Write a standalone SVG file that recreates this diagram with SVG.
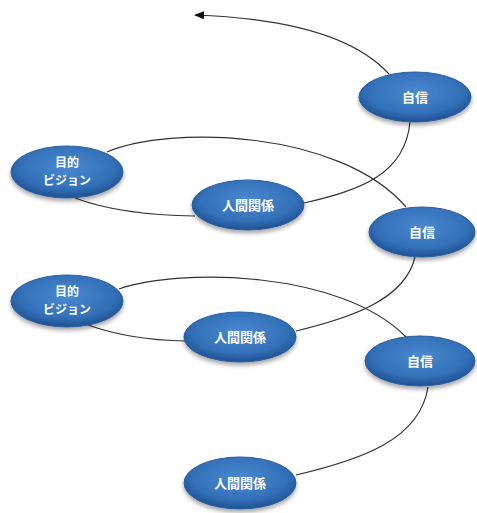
<svg xmlns="http://www.w3.org/2000/svg" width="477" height="513" viewBox="0 0 477 513">
<defs>
<radialGradient id="g" cx="50%" cy="40%" r="60%">
<stop offset="0" stop-color="#4a89d0"/>
<stop offset="0.7" stop-color="#3370b8"/>
<stop offset="1" stop-color="#1f5192"/>
</radialGradient>
<filter id="sh" x="-20%" y="-20%" width="140%" height="160%">
<feGaussianBlur in="SourceAlpha" stdDeviation="2"/>
<feOffset dy="3"/>
<feComponentTransfer><feFuncA type="linear" slope="0.35"/></feComponentTransfer>
<feMerge><feMergeNode/><feMergeNode in="SourceGraphic"/></feMerge>
</filter>
<marker id="arr" markerWidth="10" markerHeight="8" refX="9" refY="4" orient="auto" markerUnits="userSpaceOnUse">
<path d="M0,0 L10,4 L0,8 z" fill="#111"/>
</marker>
</defs>
<style>
.n ellipse{fill:url(#g);stroke:#2a5e9e;stroke-width:1;filter:url(#sh)}
.n text{fill:#fff;font-family:"Noto Sans CJK JP","Noto Sans",sans-serif;font-size:13px;font-weight:bold;text-anchor:middle}
.n text.s{font-size:12px}
.c path{fill:none;stroke:#333;stroke-width:1.2}
</style>
<g class="c" id="connectors">
<path d="M389,74 Q340,20 195,15" marker-end="url(#arr)"/>
<path d="M410,122 C405,175 360,190 304,203"/>
<path d="M107,152 C170,125 340,130 406,207"/>
<path d="M75,198 Q120,215 195,216"/>
<path d="M415,257 C405,300 350,318 296,331"/>
<path d="M119,289 C180,268 340,270 406,337"/>
<path d="M88,325 Q130,340 185,341"/>
<path d="M428,387 C420,440 360,460 296,475"/>
</g>
<g class="n" id="jishin1"><ellipse cx="415" cy="97" rx="56" ry="25"/><text x="415" y="102">自信</text></g>
<g class="n" id="mokuteki1"><ellipse cx="67" cy="172" rx="56" ry="26"/><text class="s" x="67" y="167">目的</text><text class="s" x="67" y="185">ビジョン</text></g>
<g class="n" id="ningen1"><ellipse cx="248" cy="205" rx="56" ry="25"/><text x="248" y="210">人間関係</text></g>
<g class="n" id="jishin2"><ellipse cx="422" cy="232" rx="53" ry="25"/><text x="422" y="237">自信</text></g>
<g class="n" id="mokuteki2"><ellipse cx="67" cy="301" rx="56" ry="26"/><text class="s" x="67" y="296">目的</text><text class="s" x="67" y="314">ビジョン</text></g>
<g class="n" id="ningen2"><ellipse cx="240" cy="337" rx="56" ry="25"/><text x="240" y="342">人間関係</text></g>
<g class="n" id="jishin3"><ellipse cx="420" cy="361" rx="55" ry="25"/><text x="420" y="366">自信</text></g>
<g class="n" id="ningen3"><ellipse cx="240" cy="483" rx="56" ry="26"/><text x="240" y="488">人間関係</text></g>
</svg>
